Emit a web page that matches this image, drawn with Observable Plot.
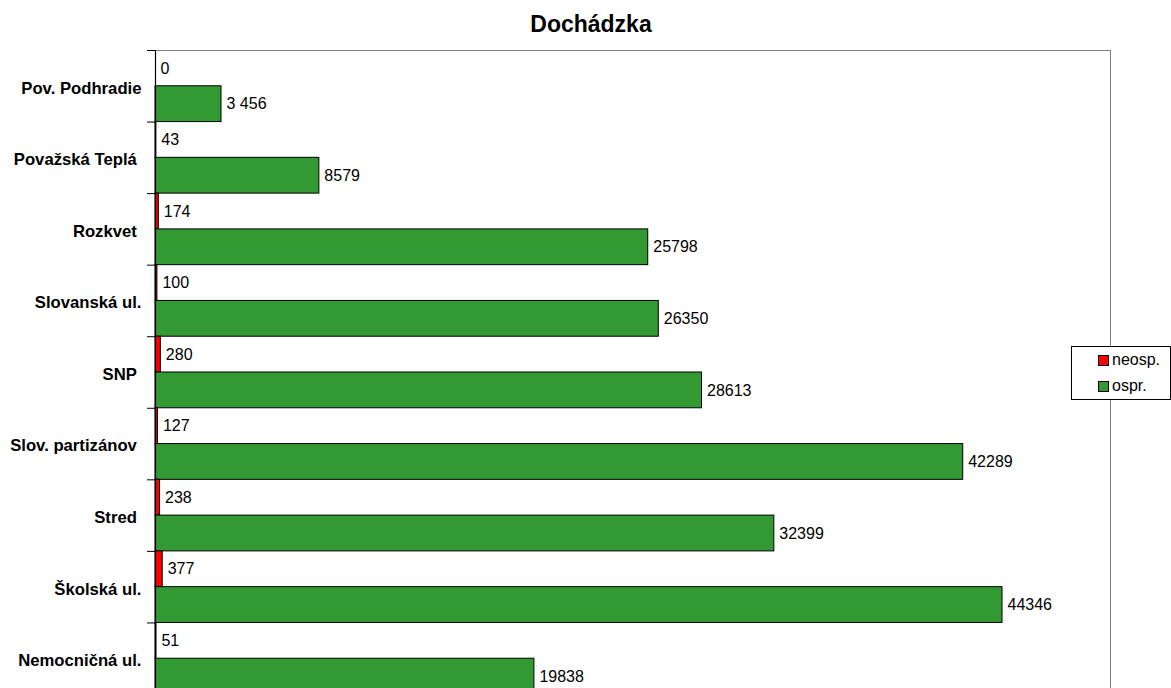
<!DOCTYPE html>
<html><head><meta charset="utf-8">
<script src="https://cdn.jsdelivr.net/npm/d3@7"></script>
<script src="https://cdn.jsdelivr.net/npm/@observablehq/plot@0.6"></script>
<style>
html,body{margin:0;padding:0;overflow:hidden;background:#fff;width:1171px;height:688px;}
#wrap{position:relative;width:1171px;height:688px;font-family:"Liberation Sans",Arial,sans-serif;overflow:hidden;}
#title{position:absolute;left:0;width:1182px;top:11px;text-align:center;font-weight:bold;font-size:23px;line-height:normal;}
#chart{position:absolute;left:0;top:0;}
#legend{position:absolute;left:1071px;top:346px;width:100px;height:54px;border:1px solid #000;background:#fff;box-sizing:border-box;}
.sw{position:absolute;width:9px;height:9px;border:1px solid #000;}
.lt{position:absolute;font-size:16px;line-height:normal;color:#000;}
</style></head><body>
<div id="wrap"><div id="chart"></div><div id="title">Dochádzka</div><div id="legend"></div></div>
<script>
const categories = ["Pov. Podhradie","Považská Teplá\u00a0","Rozkvet\u00a0","Slovanská ul.","SNP\u00a0","Slov. partizánov\u00a0","Stred\u00a0","Školská ul.","Nemocničná ul."];
const neosp = [0,43,174,100,280,127,238,377,51];
const ospr = [3456,8579,25798,26350,28613,42289,32399,44346,19838];
const neospLabels = ["0","43","174","100","280","127","238","377","51"];
const osprLabels = ["3 456","8579","25798","26350","28613","42289","32399","44346","19838"];
const seriesNames = ["neosp.","ospr."];
const seriesColors = ["#FF0000","#339933"];

const rows = [];
categories.forEach((c,i)=>{
  rows.push({cat:c, series:seriesNames[0], value:neosp[i], label:neospLabels[i], y1:i, y2:i+0.5});
  rows.push({cat:c, series:seriesNames[1], value:ospr[i], label:osprLabels[i], y1:i+0.5, y2:i+1});
});

const chart = Plot.plot({
  width:1171, height:700,
  marginLeft:155, marginRight:61, marginTop:50, marginBottom:6,
  style:{fontFamily:"'Liberation Sans', Arial, sans-serif", background:"transparent"},
  x:{domain:[0,50000], axis:null},
  y:{domain:[0,categories.length], reverse:true, axis:null},
  color:{domain:seriesNames, range:seriesColors},
  marks:[
    Plot.frame({stroke:"#808080"}),
    Plot.rect(rows,{x1:0, x2:"value", y1:"y1", y2:"y2", fill:"series", stroke:"#000", strokeWidth:1}),
    Plot.text(rows,{x:"value", y:d=>(d.y1+d.y2)/2, text:"label", textAnchor:"start", dx:5, fontSize:16, fill:"#000"}),
    Plot.ruleX([0],{stroke:"#000", strokeWidth:1.2}),
    Plot.axisY({ticks:d3.range(categories.length+1), tickSize:8, tickFormat:()=>"", label:null, stroke:"#000"}),
    Plot.axisY({ticks:categories.map((c,i)=>i+0.5), tickFormat:v=>categories[Math.floor(v)], tickSize:0, tickPadding:14, dy:2, fontSize:16.7, fontWeight:"bold", label:null, fill:"#000"})
  ]
});
document.getElementById("chart").appendChild(chart);

const legend = document.getElementById("legend");
const tops = [8, 34];
seriesNames.forEach((n,k)=>{
  const sw = document.createElement("div");
  sw.className = "sw";
  sw.style.left = "26px"; sw.style.top = (tops[k]) + "px";
  sw.style.background = seriesColors[k];
  legend.appendChild(sw);
  const t = document.createElement("div");
  t.className = "lt";
  t.style.left = "40px"; t.style.top = (tops[k]-4) + "px";
  t.textContent = n;
  legend.appendChild(t);
});
</script>
</body></html>
